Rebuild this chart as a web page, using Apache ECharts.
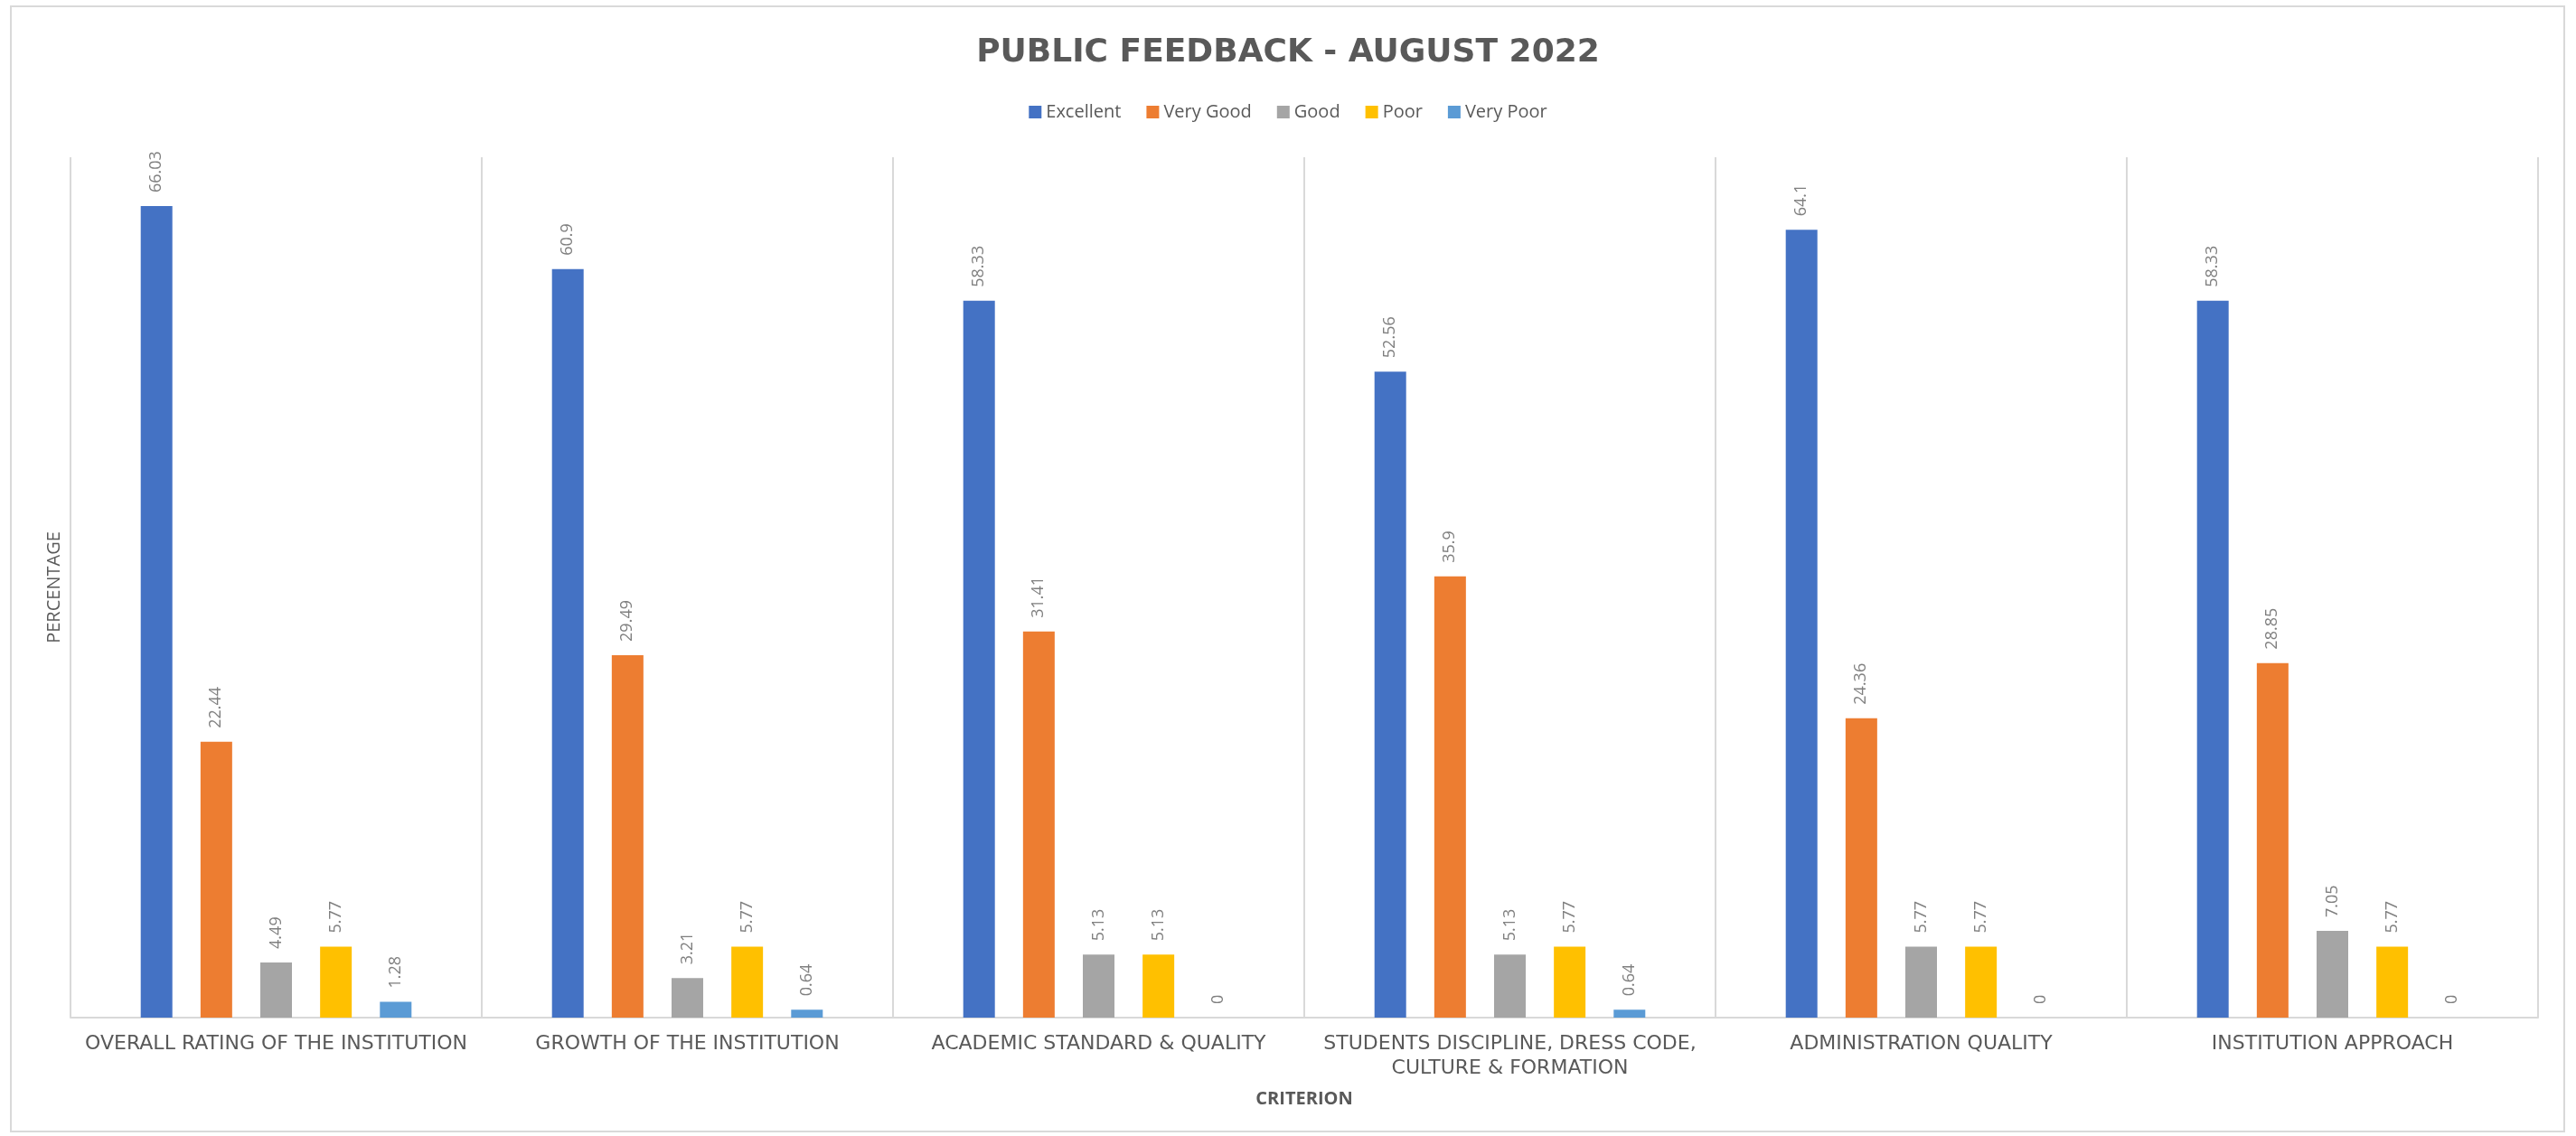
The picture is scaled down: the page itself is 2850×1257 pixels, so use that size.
<!DOCTYPE html>
<html>
<head>
<meta charset="utf-8">
<title>Public Feedback - August 2022</title>
<script src="https://cdn.jsdelivr.net/npm/echarts@6/dist/echarts.min.js"></script>
<style>
  html, body { margin: 0; padding: 0; background: #fff; }
  #chart { width: 2850px; height: 1257px; }
</style>
</head>
<body>
<div id="chart"></div>
<script>
// =====================
// Data
// =====================
const CRITERIA = [
  "OVERALL RATING OF THE INSTITUTION",
  "GROWTH OF THE INSTITUTION",
  "ACADEMIC STANDARD & QUALITY",
  "STUDENTS DISCIPLINE, DRESS CODE,\nCULTURE & FORMATION",
  "ADMINISTRATION QUALITY",
  "INSTITUTION APPROACH"
]

const RATINGS = ["Excellent", "Very Good", "Good", "Poor", "Very Poor"]
const COLORS = ["#4472C4", "#ED7D31", "#A5A5A5", "#FFC000", "#5B9BD5"]

const excellent = [66.03, 60.9, 58.33, 52.56, 64.1, 58.33]
const veryGood  = [22.44, 29.49, 31.41, 35.9, 24.36, 28.85]
const good      = [4.49, 3.21, 5.13, 5.13, 5.77, 7.05]
const poor      = [5.77, 5.77, 5.13, 5.77, 5.77, 5.77]
const veryPoor  = [1.28, 0.64, 0, 0.64, 0, 0]

const SERIES_DATA = [excellent, veryGood, good, poor, veryPoor]

const FONT = "'Open Sans', sans-serif"
const WIDE_FONT = "'DejaVu Sans', sans-serif"   // wider, stands in for the spaced-out caps
const GRAY_TEXT = "#595959"
const GRID_LINE = "#d9d9d9"

// =====================
// Chart
// =====================
const chart = echarts.init(document.getElementById("chart"))

const option = {
  animation: false,
  backgroundColor: "#fff",

  title: {
    text: "PUBLIC FEEDBACK - AUGUST 2022",
    left: "center",
    top: 36,
    textStyle: {
      fontFamily: WIDE_FONT,
      fontSize: 36,
      fontWeight: "bold",
      color: GRAY_TEXT
    }
  },

  legend: {
    data: RATINGS,
    top: 109,
    left: "center",
    icon: "rect",
    itemWidth: 14,
    itemHeight: 14,
    itemGap: 28,
    textStyle: {
      fontFamily: FONT,
      fontSize: 20,
      color: GRAY_TEXT
    }
  },

  graphic: [{
    type: "rect",
    shape: { x: 12, y: 7, width: 2825, height: 1245 },
    style: { fill: "none", stroke: GRID_LINE, lineWidth: 2 },
    silent: true
  }],

  grid: {
    left: 78,
    right: 42,
    top: 174,
    bottom: 131,
    containLabel: false
  },

  xAxis: {
    type: "category",
    data: CRITERIA,
    name: "CRITERION",
    nameLocation: "middle",
    nameGap: 80,
    nameTextStyle: {
      fontFamily: FONT,
      fontSize: 20,
      fontWeight: "bold",
      color: GRAY_TEXT
    },
    axisLine: { lineStyle: { color: GRID_LINE, width: 2 } },
    axisTick: { show: false },
    splitLine: { show: true, lineStyle: { color: GRID_LINE, width: 2 } },
    axisLabel: {
      interval: 0,
      margin: 16,
      fontFamily: WIDE_FONT,
      fontSize: 22,
      lineHeight: 27,
      color: GRAY_TEXT
    }
  },

  yAxis: {
    type: "value",
    min: 0,
    max: 70,
    name: "PERCENTAGE",
    nameLocation: "middle",
    nameGap: 8,
    nameTextStyle: {
      fontFamily: FONT,
      fontSize: 20,
      color: GRAY_TEXT
    },
    axisLine: { show: false },
    axisTick: { show: false },
    axisLabel: { show: false },
    splitLine: { show: false }
  },

  series: RATINGS.map((name, i) => ({
    name: name,
    type: "bar",
    data: SERIES_DATA[i],
    barWidth: 35,
    barGap: "89%",
    itemStyle: { color: COLORS[i] },
    label: {
      show: true,
      position: "top",
      rotate: 90,
      align: "left",
      verticalAlign: "middle",
      distance: 15,
      fontFamily: FONT,
      fontSize: 18,
      color: "#7f7f7f"
    }
  }))
}

chart.setOption(option)
</script>
</body>
</html>
